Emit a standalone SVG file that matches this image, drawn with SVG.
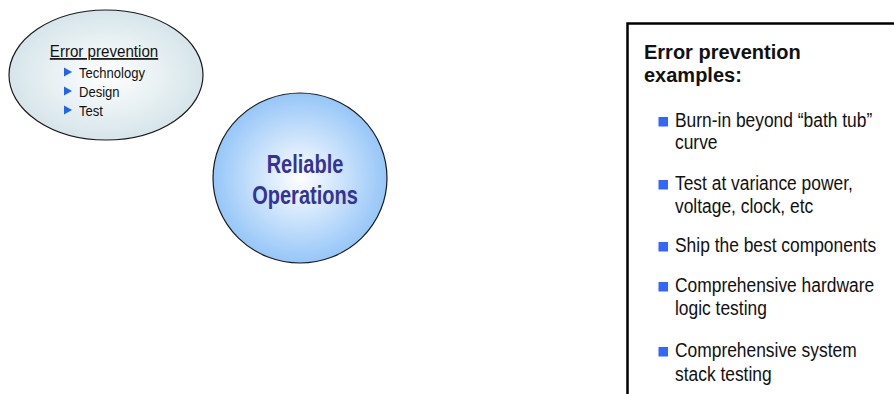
<svg xmlns="http://www.w3.org/2000/svg" width="894" height="394" viewBox="0 0 894 394">
  <defs>
    <radialGradient id="gradGrey" cx="50%" cy="50%" r="50%">
      <stop offset="0" stop-color="#ffffff"/>
      <stop offset="1" stop-color="#d6e5ea"/>
    </radialGradient>
    <radialGradient id="gradBlue" cx="50%" cy="50%" r="50%">
      <stop offset="0" stop-color="#ffffff"/>
      <stop offset="1" stop-color="#96c6f8"/>
    </radialGradient>
    <style>
      .outline { stroke: #1a1a1a; stroke-width: 1.2; }
      .txt { font-family: "Liberation Sans", Arial, sans-serif; fill: #111111; }
      .small { font-size: 15px; }
      .head { font-size: 17px; text-decoration: underline; }
      .big { font-family: "Liberation Sans", Arial, sans-serif; font-size: 25px; font-weight: bold; fill: #333399; }
      .title { font-family: "Liberation Sans", Arial, sans-serif; font-size: 20px; font-weight: bold; fill: #111111; }
      .body { font-size: 20px; }
      .tri { fill: #1a66ee; }
      .sq { fill: #3366ff; }
    </style>
  </defs>

  <g id="node-error-prevention">
    <ellipse cx="106" cy="75" rx="97" ry="65" fill="url(#gradGrey)" class="outline"/>
    <text class="txt head" text-anchor="middle" transform="translate(104 57) scale(0.89 1)">Error prevention</text>
    <polygon class="tri" points="64,67.5 72,72 64,76.5"/>
    <text class="txt small" transform="translate(79 77.5) scale(0.87 1)">Technology</text>
    <polygon class="tri" points="64,86.5 72,91 64,95.5"/>
    <text class="txt small" transform="translate(79 96.5) scale(0.87 1)">Design</text>
    <polygon class="tri" points="64,105.5 72,110 64,114.5"/>
    <text class="txt small" transform="translate(79 115.5) scale(0.87 1)">Test</text>
  </g>

  <g id="node-reliable-operations">
    <ellipse cx="300" cy="178" rx="87" ry="85" fill="url(#gradBlue)" class="outline"/>
    <text class="big" text-anchor="middle" transform="translate(305 172.5) scale(0.8 1)">Reliable</text>
    <text class="big" text-anchor="middle" transform="translate(305 204) scale(0.8 1)">Operations</text>
  </g>

  <g id="connectors"></g>

  <g id="node-examples-panel">
    <path d="M627.5,394 V23.5 H894" fill="none" stroke="#000000" stroke-width="2.5"/>
    <text class="title" x="644" y="59">Error prevention</text>
    <text class="title" x="644" y="82">examples:</text>

    <rect class="sq" x="658.5" y="117" width="9.5" height="9.5"/>
    <text class="txt body" transform="translate(675 127) scale(0.87 1)">Burn-in beyond “bath tub”</text>
    <text class="txt body" transform="translate(675 149) scale(0.87 1)">curve</text>

    <rect class="sq" x="658.5" y="180" width="9.5" height="9.5"/>
    <text class="txt body" transform="translate(675 190) scale(0.87 1)">Test at variance power,</text>
    <text class="txt body" transform="translate(675 213) scale(0.87 1)">voltage, clock, etc</text>

    <rect class="sq" x="658.5" y="242" width="9.5" height="9.5"/>
    <text class="txt body" transform="translate(675 252) scale(0.87 1)">Ship the best components</text>

    <rect class="sq" x="658.5" y="282" width="9.5" height="9.5"/>
    <text class="txt body" transform="translate(675 292) scale(0.87 1)">Comprehensive hardware</text>
    <text class="txt body" transform="translate(675 315) scale(0.87 1)">logic testing</text>

    <rect class="sq" x="658.5" y="347" width="9.5" height="9.5"/>
    <text class="txt body" transform="translate(675 357) scale(0.87 1)">Comprehensive system</text>
    <text class="txt body" transform="translate(675 381) scale(0.87 1)">stack testing</text>
  </g>
</svg>
